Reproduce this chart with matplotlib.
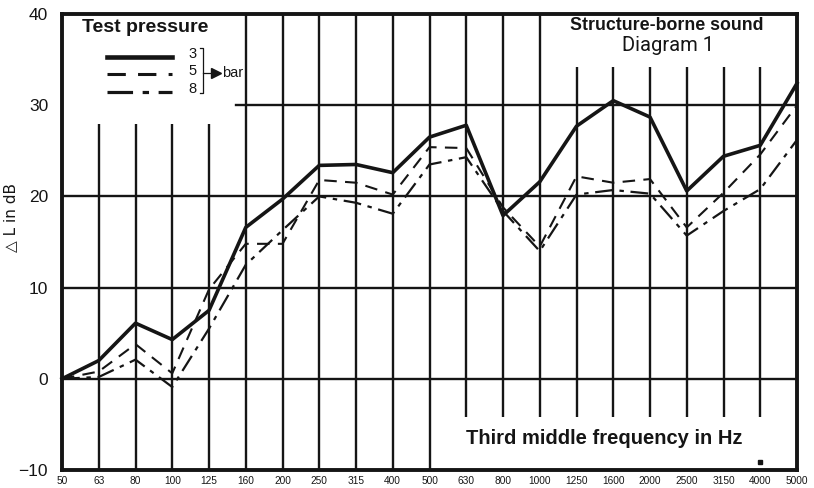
import matplotlib.pyplot as plt

plt.rcParams['font.family'] = ['Liberation Sans', 'DejaVu Sans']

# third-octave centre frequencies (Hz)
freqs = ['50', '63', '80', '100', '125', '160', '200', '250', '315', '400', '500',
         '630', '800', '1000', '1250', '1600', '2000', '2500', '3150', '4000', '5000']

# level difference in dB for each test pressure
dl_3bar = [0, 2.0, 6.1, 4.3, 7.5, 16.6, 19.7, 23.4, 23.5, 22.6, 26.5,
           27.8, 17.9, 21.6, 27.7, 30.5, 28.7, 20.6, 24.4, 25.6, 32.4]
dl_5bar = [0, 0.8, 3.8, 0.6, 9.8, 14.8, 14.8, 21.8, 21.5, 20.2, 25.4,
           25.3, 18.8, 14.5, 22.2, 21.5, 21.9, 16.6, 20.4, 24.6, 30.0]
dl_8bar = [0, 0.2, 2.1, -0.9, 5.5, 12.5, 16.3, 20.0, 19.3, 18.1, 23.5,
           24.3, 18.4, 14.0, 20.2, 20.7, 20.3, 15.7, 18.4, 20.8, 26.2]

pressures = ['3', '5', '8']
styles = ['-', (0, (6, 4)), (0, (8, 3, 2, 3))]
widths = [2.6, 1.5, 1.6]
ink = '#151515'

fig = plt.figure(figsize=(8.14, 4.88), dpi=100)
ax = fig.add_axes([62 / 814, 18 / 488, 735 / 814, 456 / 488])
x = list(range(len(freqs)))
ax.set_xlim(0, 20)
ax.set_ylim(-10, 40)

# grid: vertical lines leave room for the text blocks
gw = 1.7
for i in range(1, 20):
    top = 40
    bottom = -10
    if i <= 4:
        top = 27.9
    elif i >= 14:
        top = 34.2
    if i >= 11:
        bottom = -4.2
    ax.plot([i, i], [bottom, top], color=ink, lw=gw, solid_capstyle='butt', zorder=1)
ax.plot([4.73, 20], [30, 30], color=ink, lw=gw, zorder=1)
for yv in [20, 10, 0]:
    ax.plot([0, 20], [yv, yv], color=ink, lw=gw, zorder=1)

for vals, ls, lw in zip([dl_3bar, dl_5bar, dl_8bar], styles, widths):
    ax.plot(x, vals, color=ink, ls=ls, lw=lw, zorder=3, clip_on=False)

for s in ax.spines.values():
    s.set_linewidth(2.8)
    s.set_color(ink)

ax.set_xticks(x)
ax.set_xticklabels(freqs, fontsize=7.3)
ax.set_yticks([-10, 0, 10, 20, 30, 40])
ax.set_yticklabels(['\u221210', '0', '10', '20', '30', '40'], fontsize=12.5)
ax.tick_params(axis='x', length=0, pad=4, colors=ink)
ax.tick_params(axis='y', length=0, pad=10, colors=ink)
ax.set_ylabel('\u25b3 L in dB', fontsize=11, color=ink, family=['DejaVu Sans'])
ax.yaxis.set_label_coords(-0.06, 0.553)

# legend block
ax.text(0.54, 38.5, 'Test pressure', fontsize=14, fontweight='bold',
        va='center', ha='left', color=ink)
for k, (p, ls, lw) in enumerate(zip(pressures, styles, widths)):
    yy = 35.3 - 1.9 * k
    ax.plot([1.22, 2.99], [yy, yy], color=ink, ls=ls, lw=lw + 0.7)
    ax.text(3.56, yy + 0.3, p, fontsize=10.5, va='center', ha='center', color=ink)
ax.plot([3.75, 3.85, 3.85, 3.75], [36.3, 36.3, 31.3, 31.3], color=ink, lw=0.9)
ax.plot([3.85, 4.05], [33.5, 33.5], color=ink, lw=0.9)
ax.plot([4.2], [33.5], marker='>', color=ink, ms=7)
ax.text(4.35, 33.5, 'bar', fontsize=10.5, va='center', ha='left', color=ink)

ax.text(16.46, 38.7, 'Structure-borne sound', fontsize=12.8, fontweight='bold',
        va='center', ha='center', color=ink,
        family=['Liberation Sans Narrow', 'Liberation Sans'])
ax.text(16.49, 36.5, 'Diagram 1', fontsize=14.5, va='center', ha='center', color=ink,
        family=['Roboto', 'DejaVu Sans'])

ax.text(11.0, -6.6, 'Third middle frequency in Hz', fontsize=14.5,
        fontweight='bold', va='center', ha='left', color=ink)
ax.plot([19.0], [-9.1], marker='s', ms=2.5, color=ink)

fig.savefig('out.png', dpi=100)
